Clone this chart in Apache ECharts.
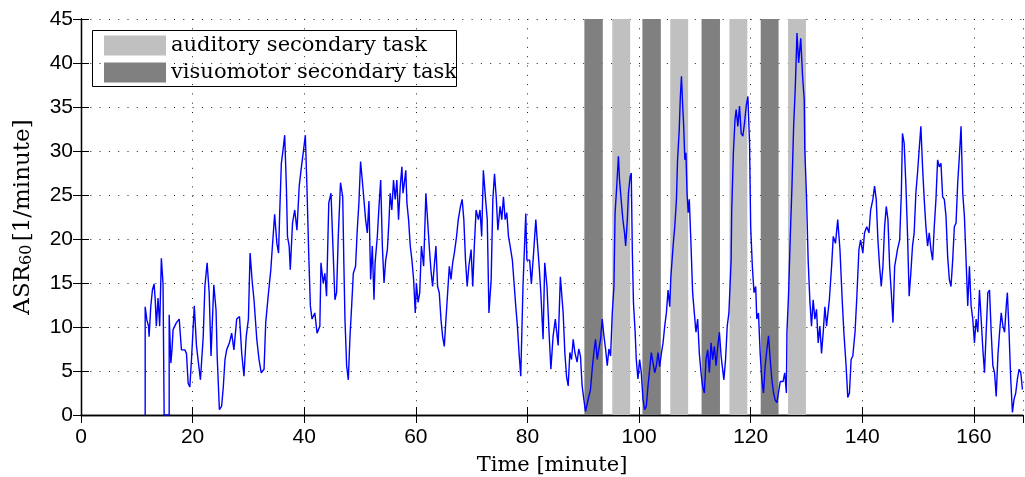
<!DOCTYPE html>
<html lang="en">
<head>
    <meta charset="UTF-8">
    <title>ASR60</title>
    <style>
      * { padding: 0; margin: 0; }
      body { background: #fff; }
    </style>
</head>
<body>
    <div id="main" style="width: 1025px;height:477px;"></div>
    <script src="https://cdn.jsdelivr.net/npm/echarts@6/dist/echarts.min.js"></script>
    <script>
        // axis ranges / ticks
        var xMax = 168.8;
        var xTickStep = 20;
        var yMax = 45;
        var yTickStep = 5;

        // secondary task periods [start, end] in minutes
        var auditoryBands = [[95.2, 98.4], [105.6, 108.8], [116.2, 119.4], [126.7, 129.9]];
        var visuomotorBands = [[90.2, 93.5], [100.6, 103.9], [111.2, 114.5], [121.8, 125.0]];

        // ASR60 trace: [time (minute), ASR60 (1/minute)]
        var asrTrace = [
            [11.5, 0], [11.5, 12.3], [11.8, 10.8], [12.1, 10.1], [12.2, 8.9], [12.5, 12.3], [12.8, 14.2], [13.1, 14.9],
            [13.3, 13.1], [13.5, 10.1], [13.8, 13.3], [14.1, 10.1], [14.4, 17.8], [14.7, 14.9], [14.9, 0], [15.8, 0],
            [15.8, 11.4], [16.1, 5.9], [16.3, 7.4], [16.5, 9.7], [17.1, 10.5], [17.6, 10.9], [18.0, 7.4], [18.6, 7.4],
            [18.9, 7.0], [19.2, 3.6], [19.5, 3.2], [19.8, 6.3], [20.3, 12.4], [20.7, 7.8], [21.4, 4.0], [21.9, 8.9],
            [22.2, 14.6], [22.6, 17.3], [22.97, 13.9], [23.3, 6.7], [23.8, 14.8], [24.2, 11.9], [24.4, 6.7], [24.8, 0.6],
            [25.2, 1.0], [25.5, 3.2], [25.8, 6.3], [26.1, 7.4], [26.6, 8.2], [27.0, 9.3], [27.4, 7.4], [27.9, 10.9],
            [28.4, 11.2], [28.8, 7.0], [29.2, 4.4], [29.6, 8.9], [30.0, 10.9], [30.3, 18.4], [30.7, 15.0], [31.0, 13.1],
            [31.5, 8.6], [31.9, 6.3], [32.3, 4.8], [32.8, 5.2], [33.1, 10.5], [33.6, 13.9], [34.0, 16.4], [34.3, 19.2],
            [34.7, 22.8], [35.1, 19.5], [35.4, 18.4], [35.6, 22.8], [35.9, 28.6], [36.2, 30.1], [36.5, 31.8], [36.8, 26.0],
            [37.0, 20.3], [37.3, 19.2], [37.5, 16.5], [37.9, 21.8], [38.3, 23.3], [38.7, 21.0], [39.1, 26.0], [39.5, 28.2],
            [39.8, 29.7], [40.2, 31.8], [40.5, 25.6], [40.8, 18.4], [41.1, 12.4], [41.4, 10.9], [41.9, 11.6], [42.3, 9.3],
            [42.8, 10.1], [43.0, 17.3], [43.4, 15.0], [43.7, 16.1], [44.0, 13.5], [44.4, 24.1], [44.8, 25.2], [45.1, 19.9],
            [45.5, 13.1], [45.8, 13.9], [46.1, 20.3], [46.5, 26.4], [46.9, 24.8], [47.1, 17.3], [47.3, 10.9], [47.6, 5.6],
            [47.9, 4.0], [48.2, 8.9], [48.5, 12.4], [48.8, 16.1], [49.2, 16.9], [49.5, 21.0], [49.8, 24.1], [50.1, 28.8],
            [50.4, 26.7], [50.7, 26.7], [51.0, 22.2], [51.3, 20.7], [51.6, 24.3], [51.9, 15.4], [52.2, 19.2], [52.5, 13.1],
            [52.7, 17.3], [53.1, 20.3], [53.4, 23.7], [53.7, 26.7], [54.0, 19.2], [54.3, 15.0], [54.6, 17.6], [54.9, 18.8],
            [55.2, 22.2], [55.4, 25.2], [55.7, 23.3], [56.0, 26.7], [56.3, 24.5], [56.6, 26.7], [56.9, 22.2], [57.2, 25.9],
            [57.5, 28.2], [57.7, 25.2], [58.0, 26.7], [58.2, 27.8], [58.4, 24.1], [58.7, 22.2], [59.0, 19.2], [59.3, 17.6],
            [59.6, 15.4], [59.9, 11.6], [60.1, 15.0], [60.4, 12.8], [60.7, 13.9], [61.0, 19.2], [61.4, 16.9], [61.8, 25.2],
            [62.1, 22.2], [62.4, 19.2], [62.7, 16.5], [63.0, 14.6], [63.3, 16.9], [63.6, 19.2], [63.9, 14.6], [64.2, 13.9],
            [64.5, 10.9], [64.8, 8.9], [65.1, 7.8], [65.4, 10.9], [65.7, 13.9], [66.0, 16.9], [66.3, 15.4], [66.6, 17.3],
            [66.9, 18.4], [67.3, 20.3], [67.6, 22.2], [68.0, 23.7], [68.3, 24.5], [68.6, 22.2], [68.9, 17.6], [69.2, 14.6],
            [69.5, 16.9], [69.9, 18.8], [70.2, 14.6], [70.5, 19.5], [70.8, 23.3], [71.2, 22.2], [71.5, 23.3], [71.8, 20.3],
            [72.1, 27.8], [72.5, 24.5], [72.8, 22.2], [73.1, 11.6], [73.5, 15.4], [73.8, 24.5], [74.1, 27.4], [74.4, 24.8],
            [74.7, 21.0], [75.1, 23.7], [75.4, 22.2], [75.7, 24.8], [76.0, 22.2], [76.3, 23.0], [76.6, 20.3], [76.9, 19.2],
            [77.3, 17.6], [77.6, 15.0], [77.9, 12.4], [78.2, 10.1], [78.5, 7.0], [78.8, 4.4], [79.2, 14.6], [79.7, 22.9],
            [79.9, 17.6], [80.4, 17.6], [80.7, 14.9], [81.1, 18.4], [81.5, 22.2], [81.7, 20.3], [82.1, 16.9], [82.4, 13.9],
            [82.8, 8.6], [83.1, 17.3], [83.5, 14.6], [83.9, 9.0], [84.2, 5.2], [84.6, 9.0], [85.0, 10.9], [85.5, 7.9],
            [85.9, 15.7], [86.4, 11.6], [86.7, 7.1], [87.0, 4.4], [87.3, 3.3], [87.6, 7.1], [87.9, 6.3], [88.2, 8.6],
            [88.5, 7.1], [88.9, 6.0], [89.2, 7.5], [89.5, 6.7], [89.8, 3.3], [90.1, 1.8], [90.4, 0.4], [90.7, 0.6],
            [91.0, 2.1], [91.3, 2.9], [91.6, 5.2], [91.9, 7.1], [92.2, 8.6], [92.5, 6.3], [92.8, 7.5], [93.1, 8.6],
            [93.4, 10.9], [93.7, 9.0], [94.0, 7.5], [94.3, 5.6], [94.6, 7.5], [94.9, 6.7], [95.2, 11.6], [95.5, 14.6],
            [95.7, 22.9], [96.0, 26.0], [96.3, 29.4], [96.5, 26.7], [96.8, 24.4], [97.1, 22.2], [97.4, 20.7], [97.6, 19.2],
            [97.9, 22.2], [98.1, 25.2], [98.4, 27.1], [98.6, 27.5], [98.8, 18.4], [99.0, 12.7], [99.3, 9.4], [99.5, 6.3],
            [99.8, 4.1], [100.1, 6.3], [100.4, 4.8], [100.7, 1.8], [101.0, 0.6], [101.3, 1.0], [101.6, 3.3], [101.9, 5.2],
            [102.2, 7.1], [102.5, 7.1], [102.8, 4.8], [103.1, 5.6], [103.4, 7.1], [103.7, 5.5], [104.0, 7.0], [104.3, 8.2],
            [104.6, 10.1], [104.9, 11.6], [105.2, 14.2], [105.5, 12.3], [105.7, 15.7], [106.1, 19.2], [106.4, 21.4], [106.7, 24.5],
            [106.9, 29.0], [107.2, 32.4], [107.4, 36.2], [107.6, 38.5], [107.8, 35.4], [108.0, 32.8], [108.2, 29.0], [108.4, 29.8],
            [108.6, 25.2], [108.8, 23.0], [109.0, 24.5], [109.3, 19.5], [109.6, 13.9], [109.9, 11.6], [110.2, 9.4], [110.5, 10.9],
            [110.8, 7.0], [111.1, 4.8], [111.4, 3.2], [111.7, 2.5], [112.0, 6.3], [112.3, 7.4], [112.6, 4.8], [112.9, 8.2],
            [113.2, 6.3], [113.5, 7.8], [113.8, 5.6], [114.1, 7.8], [114.4, 9.4], [114.7, 6.7], [114.9, 5.6], [115.2, 4.0],
            [115.5, 6.3], [115.8, 10.1], [116.1, 11.6], [116.5, 17.6], [116.6, 23.0], [116.9, 29.8], [117.2, 33.6], [117.4, 34.7],
            [117.7, 32.8], [118.0, 35.1], [118.3, 32.0], [118.6, 31.7], [118.9, 33.2], [119.2, 35.1], [119.5, 36.2], [119.8, 30.9],
            [120.0, 21.4], [120.3, 16.9], [120.6, 13.9], [120.9, 14.6], [121.1, 10.9], [121.4, 11.6], [121.7, 7.0], [122.0, 4.0],
            [122.3, 2.5], [122.6, 5.6], [122.9, 7.4], [123.2, 9.0], [123.5, 6.3], [123.8, 4.0], [124.1, 2.5], [124.4, 1.7],
            [124.7, 1.4], [125.0, 1.4], [125.3, 3.8], [125.8, 3.8], [126.1, 4.8], [126.4, 2.5], [126.5, 9.4], [126.8, 13.9],
            [127.1, 20.3], [127.4, 26.0], [127.7, 32.8], [128.0, 37.3], [128.3, 43.4], [128.6, 40.0], [128.97, 42.8], [129.3, 38.5],
            [129.6, 35.8], [129.7, 30.2], [130.0, 24.9], [130.3, 17.6], [130.6, 13.1], [130.9, 10.1], [131.2, 13.1], [131.5, 10.9],
            [131.8, 12.0], [132.1, 8.2], [132.4, 10.1], [132.7, 7.0], [133.0, 9.4], [133.3, 12.3], [133.6, 10.1], [134.1, 13.1],
            [134.5, 16.9], [134.8, 20.3], [135.2, 19.5], [135.6, 22.2], [136.0, 18.8], [136.4, 13.1], [136.7, 9.4], [137.1, 5.6],
            [137.4, 2.0], [137.7, 2.5], [138.0, 6.3], [138.3, 6.7], [138.7, 9.4], [139.0, 13.1], [139.4, 18.8], [139.7, 19.9],
            [140.1, 18.4], [140.4, 20.7], [140.8, 21.4], [141.2, 20.7], [141.5, 23.3], [141.9, 24.5], [142.2, 26.0], [142.5, 24.5],
            [142.8, 19.9], [143.1, 16.9], [143.4, 14.6], [143.7, 16.9], [144.0, 21.4], [144.3, 23.7], [144.6, 22.2], [144.9, 16.9],
            [145.2, 13.9], [145.5, 10.5], [145.8, 16.9], [146.1, 18.0], [146.3, 18.8], [146.7, 19.9], [147.0, 25.2], [147.2, 32.0],
            [147.5, 30.9], [147.8, 26.4], [148.1, 20.7], [148.4, 13.5], [148.7, 16.1], [149.0, 19.2], [149.3, 20.7], [149.6, 25.2],
            [149.9, 27.5], [150.2, 30.2], [150.5, 32.8], [150.8, 28.2], [151.1, 24.5], [151.4, 21.4], [151.7, 19.2], [152.0, 20.7],
            [152.3, 18.8], [152.6, 17.6], [152.9, 21.4], [153.2, 24.5], [153.5, 29.0], [153.8, 28.2], [154.1, 28.6], [154.4, 24.8],
            [154.7, 24.5], [155.0, 22.6], [155.3, 18.0], [155.6, 15.4], [155.9, 14.6], [156.2, 17.6], [156.5, 21.4], [156.8, 21.8],
            [157.1, 26.4], [157.4, 29.4], [157.7, 32.8], [158.0, 25.2], [158.3, 22.6], [158.6, 17.6], [158.9, 12.4], [159.2, 16.9],
            [159.5, 12.4], [159.8, 10.9], [160.1, 8.2], [160.4, 10.9], [160.7, 9.4], [161.0, 14.2], [161.3, 10.9], [161.6, 7.5],
            [161.9, 4.8], [162.2, 9.4], [162.5, 13.9], [162.8, 14.2], [163.1, 9.4], [163.4, 5.6], [163.7, 4.8], [164.0, 2.1],
            [164.3, 6.7], [164.6, 9.4], [164.9, 11.6], [165.2, 10.1], [165.5, 9.4], [165.8, 12.4], [166.0, 13.9], [166.3, 9.4],
            [166.6, 4.1], [166.9, 0.3], [167.2, 1.8], [167.5, 2.5], [167.8, 4.1], [168.1, 5.2], [168.4, 4.8], [168.7, 2.9]
        ];

        function toAreas(bands) {
            return bands.map(function (b) {
                return [{ xAxis: b[0] }, { xAxis: b[1] }];
            });
        }

        var serifFont = 'DejaVu Serif';
        var gridDots = { color: '#222', width: 1, type: [1, 8.3] };

        var boxAxis = {
            axisLine: { show: true, lineStyle: { color: '#000', width: 1.3 } },
            axisTick: { show: true, inside: true, length: 8, lineStyle: { color: '#000', width: 1 } },
            axisLabel: { show: false },
            splitLine: { show: false }
        };

        option = {
            animation: false,
            // fixed plot box, no auto shrinking for labels (v6)
            grid: { left: 81, right: 2, top: 19, bottom: 62, outerBoundsMode: 'none' },
            legend: {
                orient: 'vertical',
                left: 104,
                top: 35,
                padding: 0,
                itemGap: 6,
                itemWidth: 62,
                itemHeight: 20,
                textStyle: { fontFamily: serifFont, fontSize: 21, color: '#000' },
                data: [
                    { name: 'auditory secondary task', icon: 'rect', itemStyle: { color: '#c0c0c0' } },
                    { name: 'visuomotor secondary task', icon: 'rect', itemStyle: { color: '#808080' } }
                ]
            },
            graphic: [{
                type: 'rect',
                left: 92, top: 30, z: 0,
                shape: { width: 364, height: 56 },
                style: { fill: '#fff', stroke: '#000', lineWidth: 1 }
            }],
            xAxis: [{
                type: 'value',
                min: 0, max: xMax, interval: xTickStep,
                name: 'Time [minute]',
                nameLocation: 'middle',
                nameGap: 40,
                nameTextStyle: { fontFamily: serifFont, fontSize: 21, color: '#000' },
                axisLine: { show: true, lineStyle: { color: '#000', width: 1.3 } },
                axisTick: { show: true, inside: true, length: 8, lineStyle: { color: '#000' } },
                axisLabel: { show: true, showMaxLabel: false, margin: 12, color: '#000', fontFamily: 'Liberation Sans', fontSize: 21 },
                splitLine: { show: true, lineStyle: gridDots }
            }, Object.assign({ type: 'value', position: 'top', min: 0, max: xMax, interval: xTickStep }, boxAxis)],
            yAxis: [{
                type: 'value',
                min: 0, max: yMax, interval: yTickStep,
                name: '{n|ASR}{s|60} {n|[1/minute]}',
                nameLocation: 'middle',
                nameGap: 46,
                nameTextStyle: {
                    rich: {
                        n: { fontFamily: serifFont, fontSize: 23, color: '#000' },
                        s: { fontFamily: serifFont, fontSize: 16, color: '#000', verticalAlign: 'bottom', padding: [8, 0, 0, 0] }
                    }
                },
                axisLine: { show: true, lineStyle: { color: '#000', width: 1.3 } },
                axisTick: { show: true, inside: true, length: 8, lineStyle: { color: '#000' } },
                axisLabel: { margin: 8, color: '#000', fontFamily: 'Liberation Sans', fontSize: 21 },
                splitLine: { show: true, lineStyle: gridDots }
            }, Object.assign({ type: 'value', position: 'right', min: 0, max: yMax, interval: yTickStep }, boxAxis)],
            series: [
                {
                    name: 'auditory secondary task',
                    type: 'line',
                    data: [],
                    z: 1,
                    itemStyle: { color: '#c0c0c0' },
                    markArea: { silent: true, itemStyle: { color: '#c0c0c0' }, data: toAreas(auditoryBands) }
                },
                {
                    name: 'visuomotor secondary task',
                    type: 'line',
                    data: [],
                    z: 1,
                    itemStyle: { color: '#808080' },
                    markArea: { silent: true, itemStyle: { color: '#808080' }, data: toAreas(visuomotorBands) }
                },
                {
                    name: 'ASR60',
                    type: 'line',
                    z: 3,
                    showSymbol: false,
                    symbol: 'none',
                    lineStyle: { color: '#0000ff', width: 1.4 },
                    data: asrTrace
                }
            ]
        };

        var myChart = echarts.init(document.getElementById('main'));
        myChart.setOption(option);
    </script>
</body>
</html>
